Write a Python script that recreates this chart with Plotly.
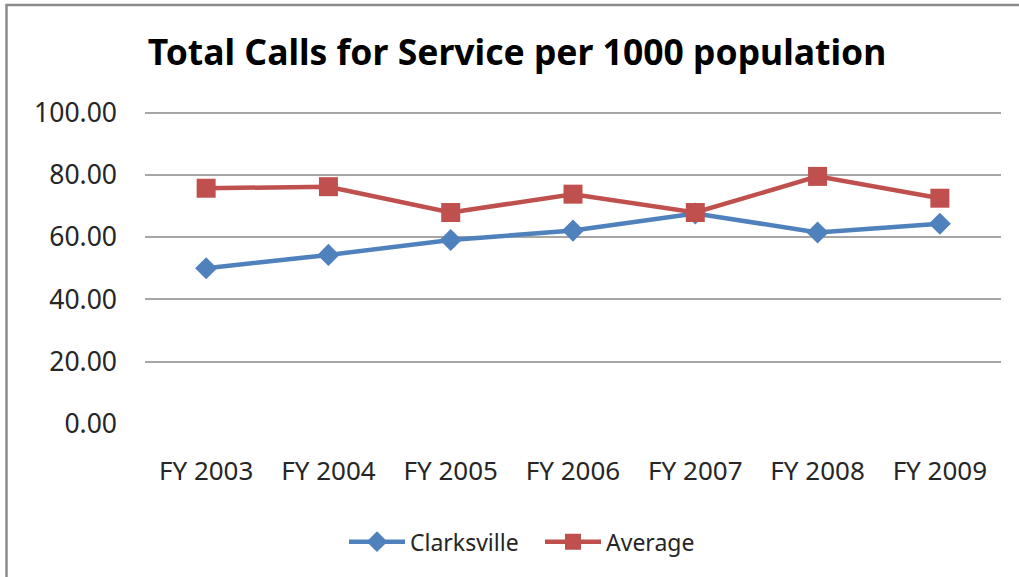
import plotly.graph_objects as go

categories = ["FY 2003", "FY 2004", "FY 2005", "FY 2006", "FY 2007", "FY 2008", "FY 2009"]
clarksville = [50.0, 54.3, 59.1, 62.1, 67.6, 61.5, 64.3]
average = [75.7, 76.2, 67.9, 73.8, 67.9, 79.5, 72.5]
y_ticks = [0, 20, 40, 60, 80, 100]
y_tick_labels = ["0.00", "20.00", "40.00", "60.00", "80.00", "100.00"]

W, H = 1019, 577
L, R, T, B = 145, 1001, 111.1, 424.2
pw, ph = R - L, B - T

fig = go.Figure()
fig.add_trace(go.Scatter(
    x=categories, y=clarksville, name="Clarksville", mode="lines+markers",
    line=dict(color="#4F81BD", width=4.5),
    marker=dict(symbol="diamond", size=17, color="#4F81BD"),
))
fig.add_trace(go.Scatter(
    x=categories, y=average, name="Average", mode="lines+markers",
    line=dict(color="#C0504D", width=4.5),
    marker=dict(symbol="square", size=19, color="#C0504D"),
))

font_family = "Noto Sans, Open Sans, DejaVu Sans, sans-serif"

fig.update_layout(
    width=W, height=H,
    margin=dict(l=L, r=W - R, t=T, b=H - B, autoexpand=False),
    paper_bgcolor="white", plot_bgcolor="white",
    font=dict(family=font_family, color="#262626"),
    title=dict(text="<b>Total Calls for Service per 1000 population</b>",
               font=dict(size=35.5, color="black", family=font_family),
               x=517 / W, xanchor="center", xref="container",
               y=1 - 53 / H, yanchor="middle", yref="container"),
    showlegend=True,
    legend=dict(orientation="h", x=(540 - L) / pw, xanchor="center",
                y=(B - 542) / ph, yanchor="middle", itemwidth=56,
                entrywidth=125, entrywidthmode="pixels",
                font=dict(size=23, color="#262626"), bgcolor="rgba(0,0,0,0)"),
    xaxis=dict(range=[-0.5, 6.5], showgrid=False, zeroline=False, showline=False,
               tickfont=dict(size=26), ticks="", ticklabelstandoff=29,
               fixedrange=True),
    yaxis=dict(range=[0, 100.5], tickvals=y_ticks, ticktext=y_tick_labels,
               showgrid=True, gridcolor="#A6A6A6", gridwidth=1.5,
               zeroline=False, showline=False,
               tickfont=dict(size=26.5), ticks="", ticklabelstandoff=27,
               fixedrange=True),
    shapes=[dict(type="rect", xref="paper", yref="paper",
                 x0=(6.5 - L) / pw, x1=(W + 20 - L) / pw,
                 y0=(B - (H + 20)) / ph, y1=(B - 5) / ph,
                 line=dict(color="#8C8C8C", width=2.5), fillcolor="rgba(0,0,0,0)",
                 layer="below")],
)

fig.write_html("out.html", config={"displayModeBar": False},
               post_script="document.body.style.margin='0';document.body.style.overflow='hidden';")
